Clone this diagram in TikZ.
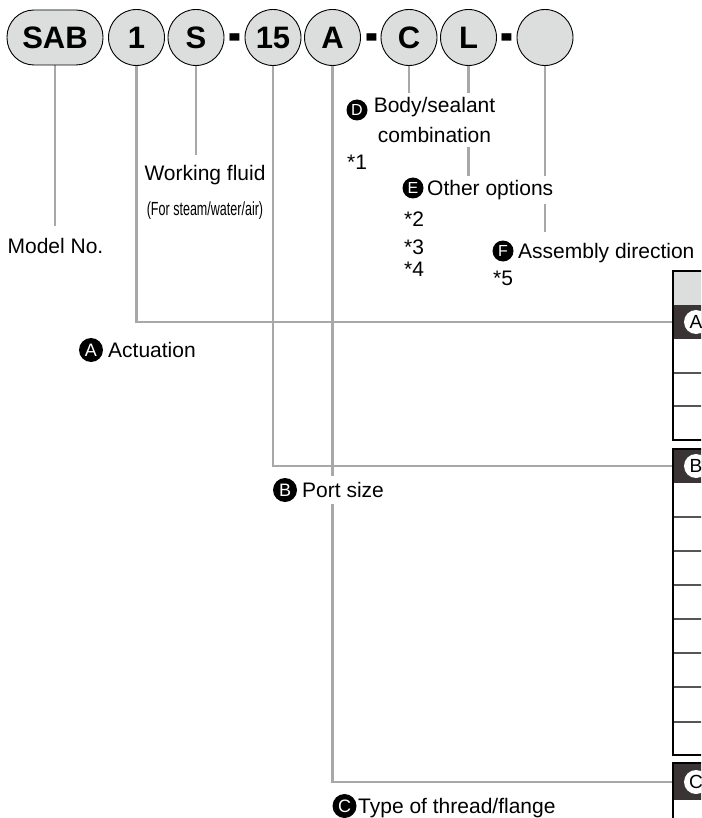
\documentclass[tikz,border=0pt]{standalone}
\usepackage{fontspec}
\setmainfont{Liberation Sans}
\usetikzlibrary{calc,backgrounds}
\definecolor{pillgray}{HTML}{DCDDDD}
\definecolor{linegray}{HTML}{A8A8A8}
\definecolor{darkrow}{HTML}{3A3434}
\definecolor{sepgray}{HTML}{555555}
\begin{document}
\begin{tikzpicture}[x=1pt,y=-1pt,
  code/.style={draw=black, line width=0.9pt, fill=pillgray, circle, minimum size=56pt, inner sep=0pt, font=\fontsize{31}{31}\selectfont\bfseries},
  pill/.style={draw=black, line width=0.9pt, fill=pillgray, rectangle, rounded corners=27pt, minimum width=96pt, minimum height=55pt, inner sep=0pt, font=\fontsize{31}{31}\selectfont\bfseries},
  dashmark/.style={font=\fontsize{31}{31}\selectfont\bfseries, inner sep=0pt, anchor=base},
  conn/.style={draw=linegray, line width=2.2pt},
  lbl/.style={font=\fontsize{21}{30}\selectfont, inner sep=0pt, anchor=base west},
  bigdot/.style={circle, fill=black, text=white, minimum size=24pt, inner sep=0pt, font=\fontsize{18}{18}\selectfont},
  smalldot/.style={circle, fill=black, text=white, minimum size=21pt, inner sep=0pt, font=\fontsize{16}{16}\selectfont},
  whitedot/.style={circle, fill=white, text=black, minimum size=24pt, inner sep=0pt, font=\fontsize{19}{19}\selectfont},
  darkcell/.style={rectangle, fill=darkrow, minimum width=50pt, minimum height=34pt, inner sep=0pt, anchor=north west},
  tborder/.style={draw=black, line width=2.2pt},
  tsep/.style={draw=sepgray, line width=1.3pt}
]
\useasboundingbox (0,0) rectangle (701,818);
\clip (0,0) rectangle (701,818);

% code row
\node[pill] (sab) at (55,37.5) {SAB};
\node[code] (c1) at (136.5,37.5) {1};
\node[code] (cS) at (196,37.5) {S};
\node[dashmark] (d1) at (235,54) {\scalebox{1.25}[2.0]{-}};
\node[code] (c15) at (273,37.5) {15};
\node[code] (cA) at (332.5,37.5) {A};
\node[dashmark] (d2) at (372,54) {\scalebox{1.25}[2.0]{-}};
\node[code] (cC) at (409,37.5) {C};
\node[code] (cL) at (468.5,37.5) {L};
\node[dashmark] (d3) at (507,54) {\scalebox{1.25}[2.0]{-}};
\node[code] (cX) at (545,37.5) {};

% tables
\fill[pillgray] (673,271) rectangle (720,305);
\node[darkcell] (tA) at (673,305) {};
\draw[tsep] (673,373) -- (720,373) (673,406) -- (720,406);
\draw[tborder] (673,271) rectangle (720,440);
\node[whitedot] (wA) at (696,322) {A};

\node[darkcell] (tB) at (673,449) {};
\draw[tsep] (673,517) -- (720,517) (673,551) -- (720,551) (673,585) -- (720,585)
  (673,619) -- (720,619) (673,653) -- (720,653) (673,687) -- (720,687) (673,722) -- (720,722);
\draw[tborder] (673,449) rectangle (720,755);
\node[whitedot] (wB) at (696,466) {B};

\node[darkcell, minimum height=36pt] (tC) at (673,764) {};
\draw[tborder] (673,763) rectangle (720,840);
\node[whitedot] (wC) at (696,782) {C};

% labels
\node[lbl, anchor=base] (model) at (55.5,253.3) {Model No.};
\node[lbl, anchor=base] (wf) at (205,180.5) {Working fluid};
\node[anchor=base, inner sep=0pt, font=\fontsize{19}{19}\selectfont] (wfs) at (205,215.5) {\scalebox{0.66}[1]{(For steam/water/air)}};

\node[bigdot] (la) at (91,350) {A};
\node[lbl] (atext) at (108,357.5) {Actuation};

\node[bigdot] (lb) at (285,490) {B};
\node[lbl, fill=white, inner xsep=1pt, inner ysep=6pt] (btext) at (301,497.5) {Port size};

\node[bigdot] (lc) at (344.5,806) {C};
\node[lbl] (ctext) at (358,813.5) {Type of thread/flange};

\node[smalldot] (ld) at (357,110) {D};
\node[font=\fontsize{21}{30}\selectfont, align=center, anchor=north, fill=white, inner sep=4pt] (dtext) at (434.5,93) {Body/sealant\\combination};
\node[lbl] (n1) at (347,170) {*1};

\node[smalldot] (le) at (413,188) {E};
\node[lbl, fill=white, inner xsep=1pt, inner ysep=4pt] (etext) at (426,195.5) {Other options};
\node[lbl] (n2) at (404,226.5) {*2};
\node[lbl] (n3) at (404,254.5) {*3};
\node[lbl] (n4) at (404,276.5) {*4};

\node[smalldot] (lf) at (503,251) {F};
\node[lbl, fill=white, inner xsep=1pt, inner ysep=4pt] (ftext) at (517,258.5) {Assembly direction};
\node[lbl] (n5) at (493,285.5) {*5};

% connectors
\begin{pgfonlayer}{background}
\draw[conn] (sab.south) -- ($(sab.south |- model.north)+(0,-12)$);
\draw[conn] (c1.south) |- (tA.west);
\draw[conn] (cS.south) -- ($(cS.south |- wf.north)+(0,-10)$);
\draw[conn] (c15.south) |- (tB.west);
\draw[conn] (cA.south) |- (tC.west);
\draw[conn] (cC.south) -- (cC.south |- dtext.north);
\draw[conn] (cL.south) -- (cL.south |- etext.north);
\draw[conn] (cX.south) -- ($(cX.south |- ftext.north)+(0,-7)$);
\end{pgfonlayer}
\end{tikzpicture}
\end{document}
